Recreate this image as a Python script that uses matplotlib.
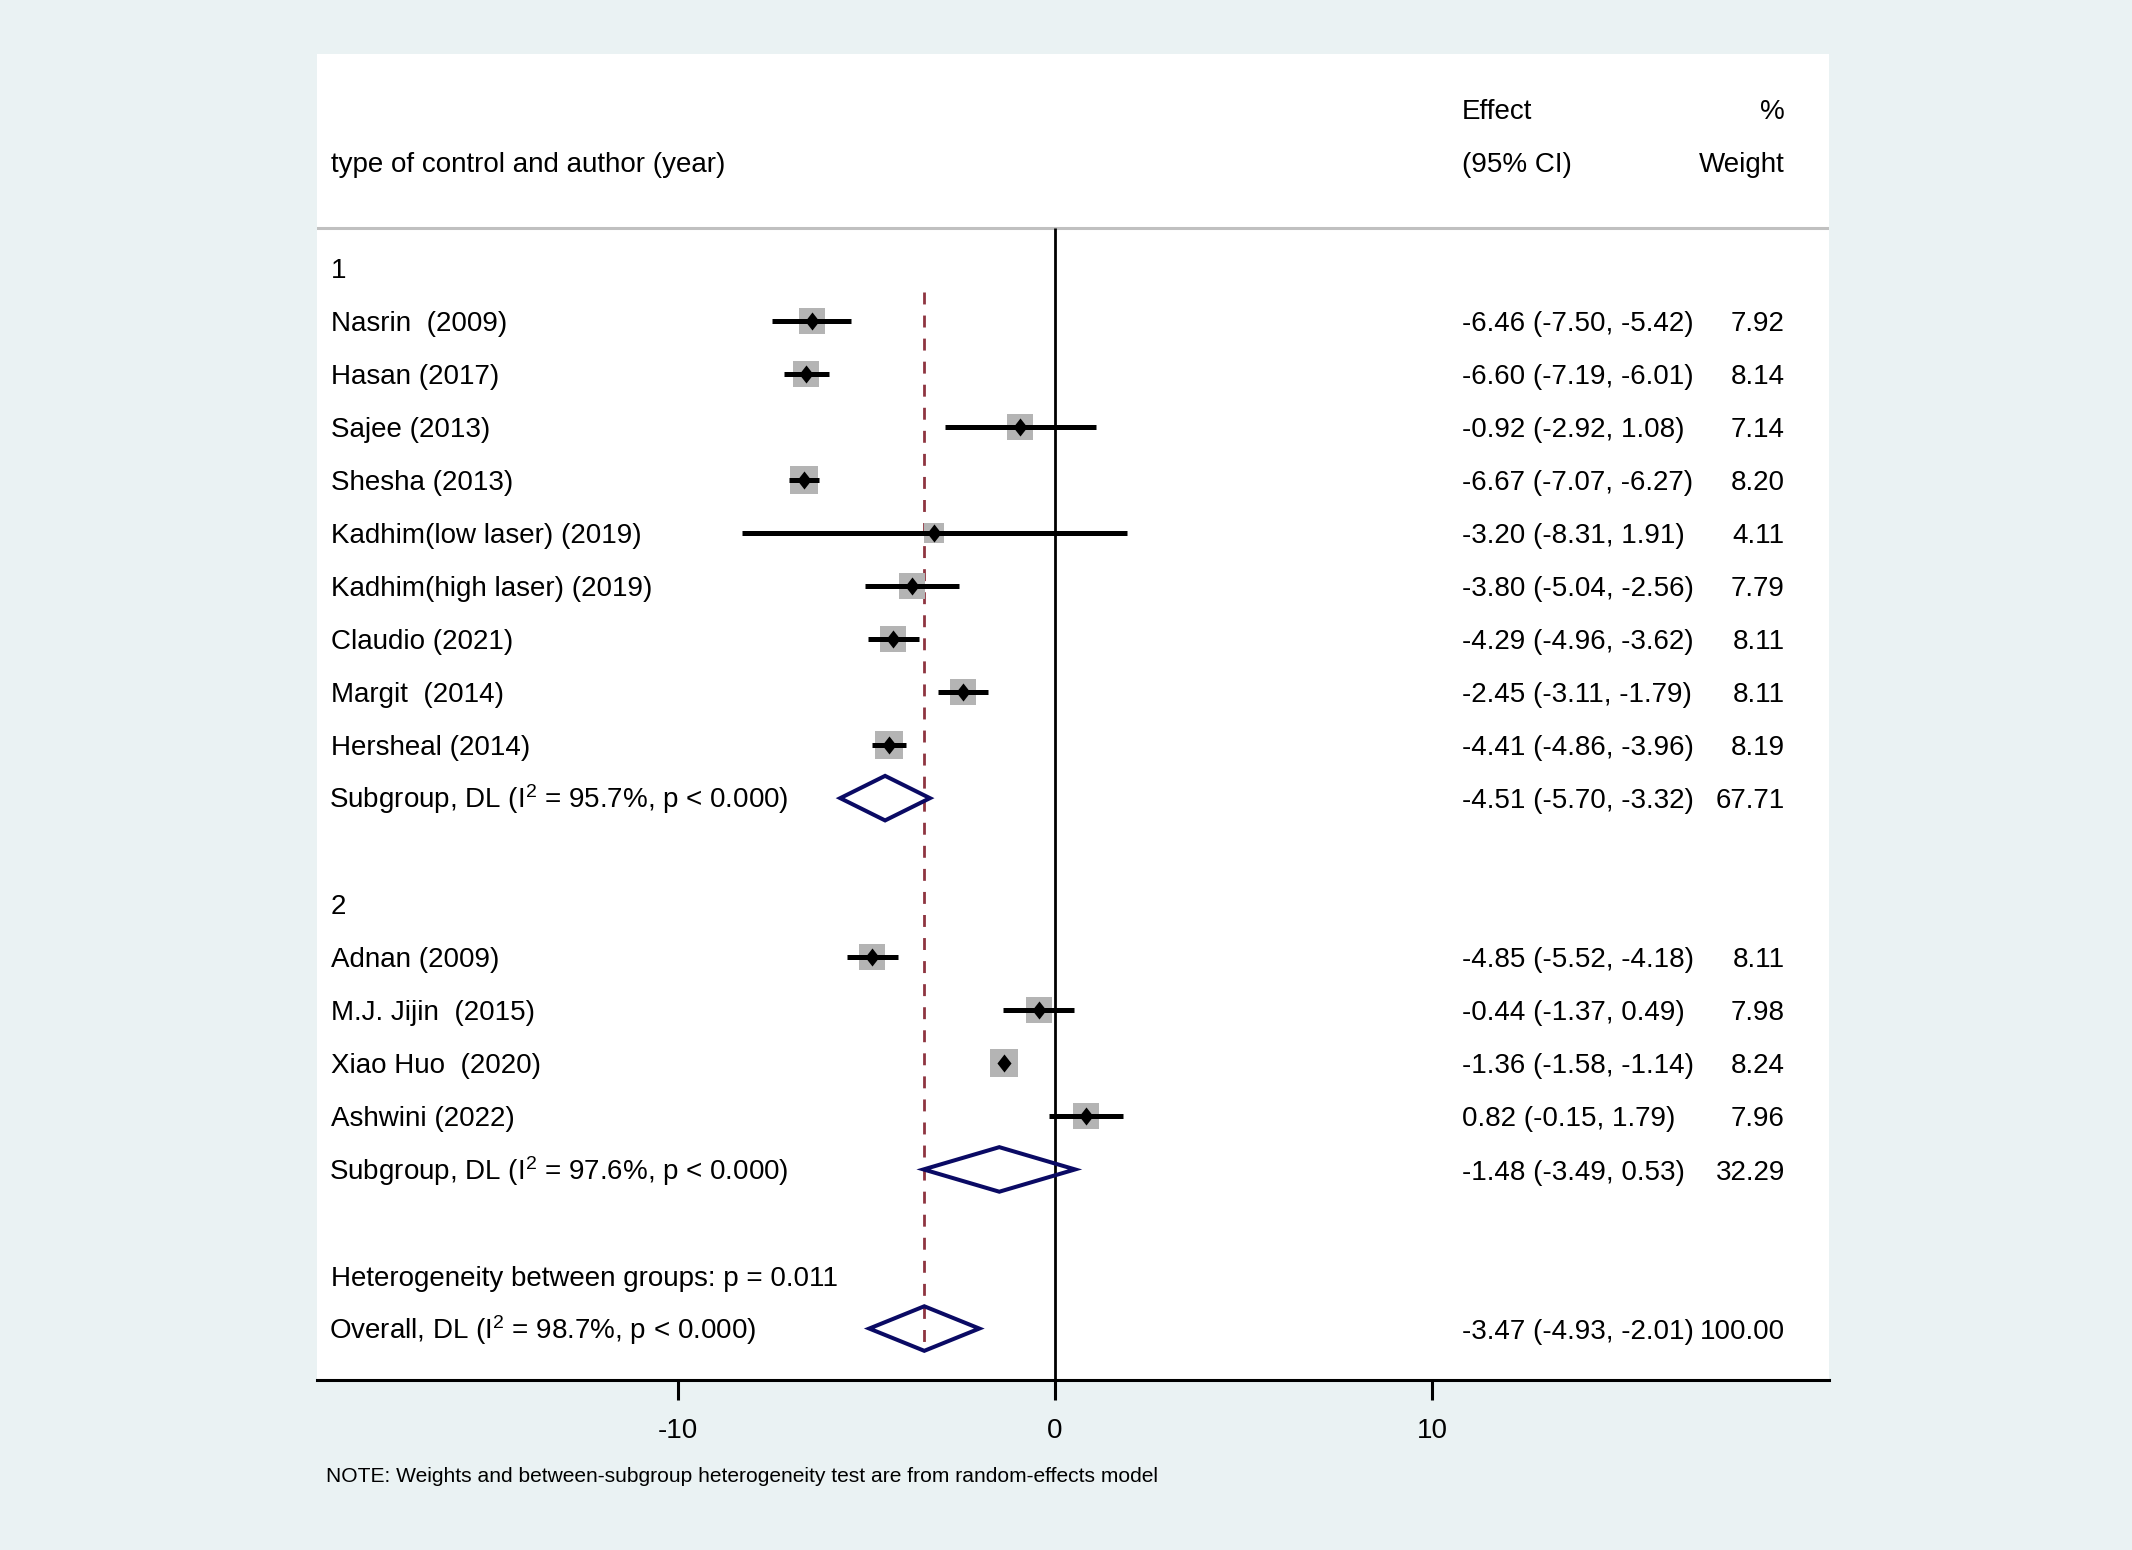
import numpy as np
import matplotlib
matplotlib.use("Agg")
import matplotlib.pyplot as plt
from matplotlib.patches import Polygon
from matplotlib.path import Path

plt.rcParams['font.family'] = ['Liberation Sans', 'DejaVu Sans']
plt.rcParams['mathtext.fontset'] = 'custom'
plt.rcParams['mathtext.rm'] = 'Liberation Sans'
plt.rcParams['mathtext.it'] = 'Liberation Sans'

# study rows (group 1 then group 2)
studies = ['Nasrin  (2009)', 'Hasan (2017)', 'Sajee (2013)', 'Shesha (2013)',
           'Kadhim(low laser) (2019)', 'Kadhim(high laser) (2019)', 'Claudio (2021)',
           'Margit  (2014)', 'Hersheal (2014)',
           'Adnan (2009)', 'M.J. Jijin  (2015)', 'Xiao Huo  (2020)', 'Ashwini (2022)']
effect = [-6.46, -6.60, -0.92, -6.67, -3.20, -3.80, -4.29, -2.45, -4.41,
          -4.85, -0.44, -1.36, 0.82]
ci_lo = [-7.50, -7.19, -2.92, -7.07, -8.31, -5.04, -4.96, -3.11, -4.86,
         -5.52, -1.37, -1.58, -0.15]
ci_hi = [-5.42, -6.01, 1.08, -6.27, 1.91, -2.56, -3.62, -1.79, -3.96,
         -4.18, 0.49, -1.14, 1.79]
weight = [7.92, 8.14, 7.14, 8.20, 4.11, 7.79, 8.11, 8.11, 8.19,
          8.11, 7.98, 8.24, 7.96]
study_row = [1, 2, 3, 4, 5, 6, 7, 8, 9, 13, 14, 15, 16]

# pooled estimates
pooled_labels = ['Subgroup, DL (I$^{2}$ = 95.7%, p < 0.000)',
                 'Subgroup, DL (I$^{2}$ = 97.6%, p < 0.000)',
                 'Overall, DL (I$^{2}$ = 98.7%, p < 0.000)']
pooled_est = [-4.51, -1.48, -3.47]
pooled_lo = [-5.70, -3.49, -4.93]
pooled_hi = [-3.32, 0.53, -2.01]
pooled_wt = [67.71, 32.29, 100.00]
pooled_row = [10, 17, 20]

group_labels = ['1', '2']
group_row = [0, 12]
het_text = 'Heterogeneity between groups: p = 0.011'
het_row = 19

xticks = [-10, 0, 10]
note = 'NOTE: Weights and between-subgroup heterogeneity test are from random-effects model'

bg = '#EAF2F3'
W, H = 2132, 1550
fig = plt.figure(figsize=(W / 100, H / 100), dpi=100, facecolor=bg)
ax = fig.add_axes([317 / W, 1 - 1380 / H, (1829 - 317) / W, (1380 - 54) / H])
ax.set_facecolor('white')
xmin, xmax = -19.58, 20.53
ax.set_xlim(xmin, xmax)
ax.set_ylim(20.97, -4.03)

px_per_unit = (1829 - 317) / (xmax - xmin)
fs = 20
base = 0.19
x_lab, x_eff, x_wt = -19.22, 10.79, 19.36

# header
ax.text(x_lab, -2 + base, 'type of control and author (year)', fontsize=fs, va='baseline')
ax.text(x_eff, -3 + base, 'Effect', fontsize=fs, va='baseline')
ax.text(x_eff, -2 + base, '(95% CI)', fontsize=fs, va='baseline')
ax.text(x_wt, -3 + base, '%', fontsize=fs, va='baseline', ha='right')
ax.text(x_wt, -2 + base, 'Weight', fontsize=fs, va='baseline', ha='right')
ax.axhline(-0.744, color='#C0C0C0', lw=2.2, zorder=1)

# reference lines
ax.plot([0, 0], [-0.744, 20.97], color='black', lw=2, zorder=1, solid_capstyle='butt')
ax.plot([pooled_est[2]] * 2, [0.46, 20.45], color='#8E3440', lw=2, dashes=(4.3, 4.0), zorder=1)

for g, r in zip(group_labels, group_row):
    ax.text(x_lab, r + base, g, fontsize=fs, va='baseline')
ax.text(x_lab, het_row + base, het_text, fontsize=fs, va='baseline')

dmd = Path([(0, 1), (0.78, 0), (0, -1), (-0.78, 0), (0, 1)],
           [Path.MOVETO, Path.LINETO, Path.LINETO, Path.LINETO, Path.CLOSEPOLY])

for name, e, lo, hi, w, r in zip(studies, effect, ci_lo, ci_hi, weight, study_row):
    side_px = 27 * np.sqrt(w / 8.14)
    ax.plot(e, r, marker='s', ms=side_px * 0.72, color='#B4B4B4', mew=0, zorder=2)
    half = side_px / 2 / px_per_unit
    if lo < e - half or hi > e + half:
        ax.plot([lo, hi], [r, r], color='black', lw=3.6, solid_capstyle='butt', zorder=3)
    ax.plot(e, r, marker=dmd, ms=13, color='black', mew=0, zorder=4)
    ax.text(x_lab, r + base, name, fontsize=fs, va='baseline')
    ax.text(x_eff, r + base, f'{e:.2f} ({lo:.2f}, {hi:.2f})', fontsize=fs, va='baseline')
    ax.text(x_wt, r + base, f'{w:.2f}', fontsize=fs, va='baseline', ha='right')

for lab, e, lo, hi, w, r in zip(pooled_labels, pooled_est, pooled_lo, pooled_hi, pooled_wt, pooled_row):
    poly = Polygon([(lo, r), (e, r - 0.42), (hi, r), (e, r + 0.42)], closed=True,
                   fill=False, edgecolor='#0A0A64', lw=2.9, joinstyle='miter', zorder=5)
    ax.add_patch(poly)
    ax.text(x_lab - 0.04, r + base, lab, fontsize=fs, va='baseline')
    ax.text(x_eff, r + base, f'{e:.2f} ({lo:.2f}, {hi:.2f})', fontsize=fs, va='baseline')
    ax.text(x_wt, r + base, f'{w:.2f}', fontsize=fs, va='baseline', ha='right')

# axis
for s in ['left', 'right', 'top']:
    ax.spines[s].set_visible(False)
ax.spines['bottom'].set_linewidth(2.2)
ax.set_yticks([])
ax.set_xticks(xticks)
ax.set_xticklabels([str(t) for t in xticks])
ax.tick_params(axis='x', length=14.5, width=2.2, pad=13, labelsize=20)

fig.text(326 / W, 1 - 1482 / H, note, fontsize=15.1, va='baseline')

fig.savefig('out.png', dpi=100, facecolor=bg)
